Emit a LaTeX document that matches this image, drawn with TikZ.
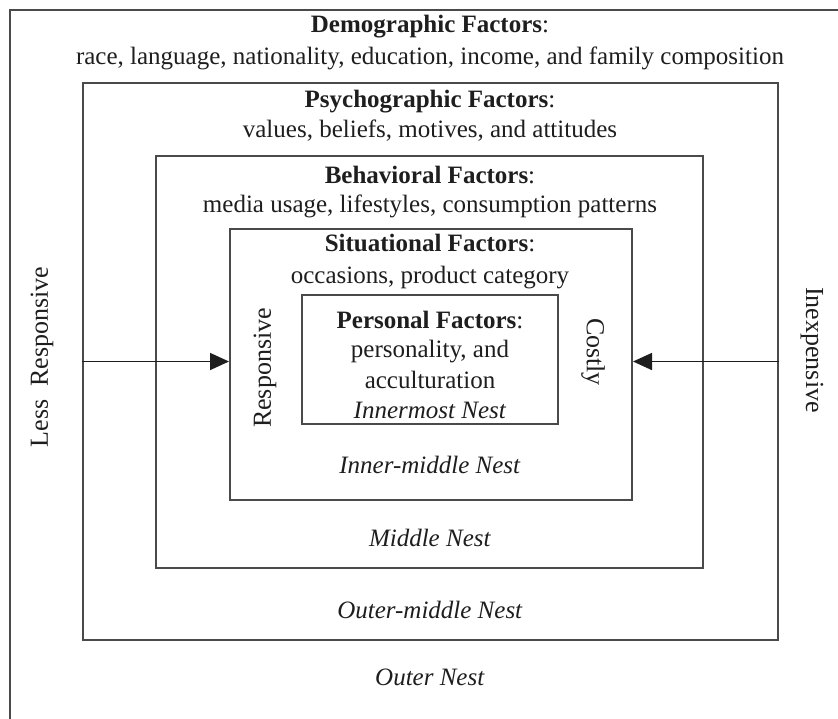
\documentclass[tikz,border=0pt]{standalone}
\usepackage{fontspec}
\setmainfont{Liberation Serif}
\usetikzlibrary{arrows.meta}
\definecolor{linegray}{HTML}{4A4A4A}
\definecolor{inkgray}{HTML}{1E1E1E}
\tikzset{
  nestbox/.style={draw=linegray, line width=2pt, minimum width=#1, inner sep=0pt},
  label/.style={text=inkgray, font=\fontsize{25}{27}\selectfont, inner sep=0pt, anchor=center},
  side/.style={label, font=\fontsize{26}{28}\selectfont},
  arr/.style={draw=inkgray, line width=1.6pt, -{Triangle[length=19pt, width=17pt]}}
}
\begin{document}
\begin{tikzpicture}[x=1pt, y=-1pt]
  \useasboundingbox (0,0) rectangle (838,718);
  \fill[white] (0,0) rectangle (838,718);
  \clip (0,0) rectangle (838,718);

  % nested frames, outermost first
  \node[nestbox=840pt, minimum height=720pt] (outer) at (430,370) {};
  \node[nestbox=695pt, minimum height=557pt] (omid) at (430.5,361.5) {};
  \node[nestbox=547pt, minimum height=412pt] (mid) at (429.5,362) {};
  \node[nestbox=402pt, minimum height=271pt] (imid) at (431,364.5) {};
  \node[nestbox=256pt, minimum height=129pt] (inner) at (430,359.5) {};

  % headings and factor lists
  \node[label] (demoT) at (430,27) {\textbf{Demographic Factors}:};
  \node[label] (demoL) at (430,58) {race, language, nationality, education, income, and family composition};
  \node[label] (psyT) at (430,102) {\textbf{Psychographic Factors}:};
  \node[label] (psyL) at (430,131) {values, beliefs, motives, and attitudes};
  \node[label] (behT) at (430,175) {\textbf{Behavioral Factors}:};
  \node[label] (behL) at (430,206) {media usage, lifestyles, consumption patterns};
  \node[label] (sitT) at (430,243) {\textbf{Situational Factors}:};
  \node[label] (sitL) at (430,278) {occasions, product category};
  \node[label] (perT) at (430,320) {\textbf{Personal Factors}:};
  \node[label] (perL1) at (430,352) {personality, and};
  \node[label] (perL2) at (430,380) {acculturation};

  % nest names
  \node[label] (n5) at (430,410) {\textit{Innermost Nest}};
  \node[label] (n4) at (430,465) {\textit{Inner-middle Nest}};
  \node[label] (n3) at (430,538) {\textit{Middle Nest}};
  \node[label] (n2) at (430,610) {\textit{Outer-middle Nest}};
  \node[label] (n1) at (430,677) {\textit{Outer Nest}};

  % side labels
  \node[side, rotate=90] (lessR) at (42,357) {Less\ \ Responsive};
  \node[side, rotate=90] (resp) at (265,368) {Responsive};
  \node[side, rotate=-90] (cost) at (593,352) {Costly};
  \node[side, rotate=-90] (inexp) at (812,350) {Inexpensive};

  % arrows toward the inner-middle nest
  \draw[arr] (omid.west) -- (imid.west |- omid.west);
  \draw[arr] (omid.east) -- (imid.east |- omid.east);
\end{tikzpicture}
\end{document}
